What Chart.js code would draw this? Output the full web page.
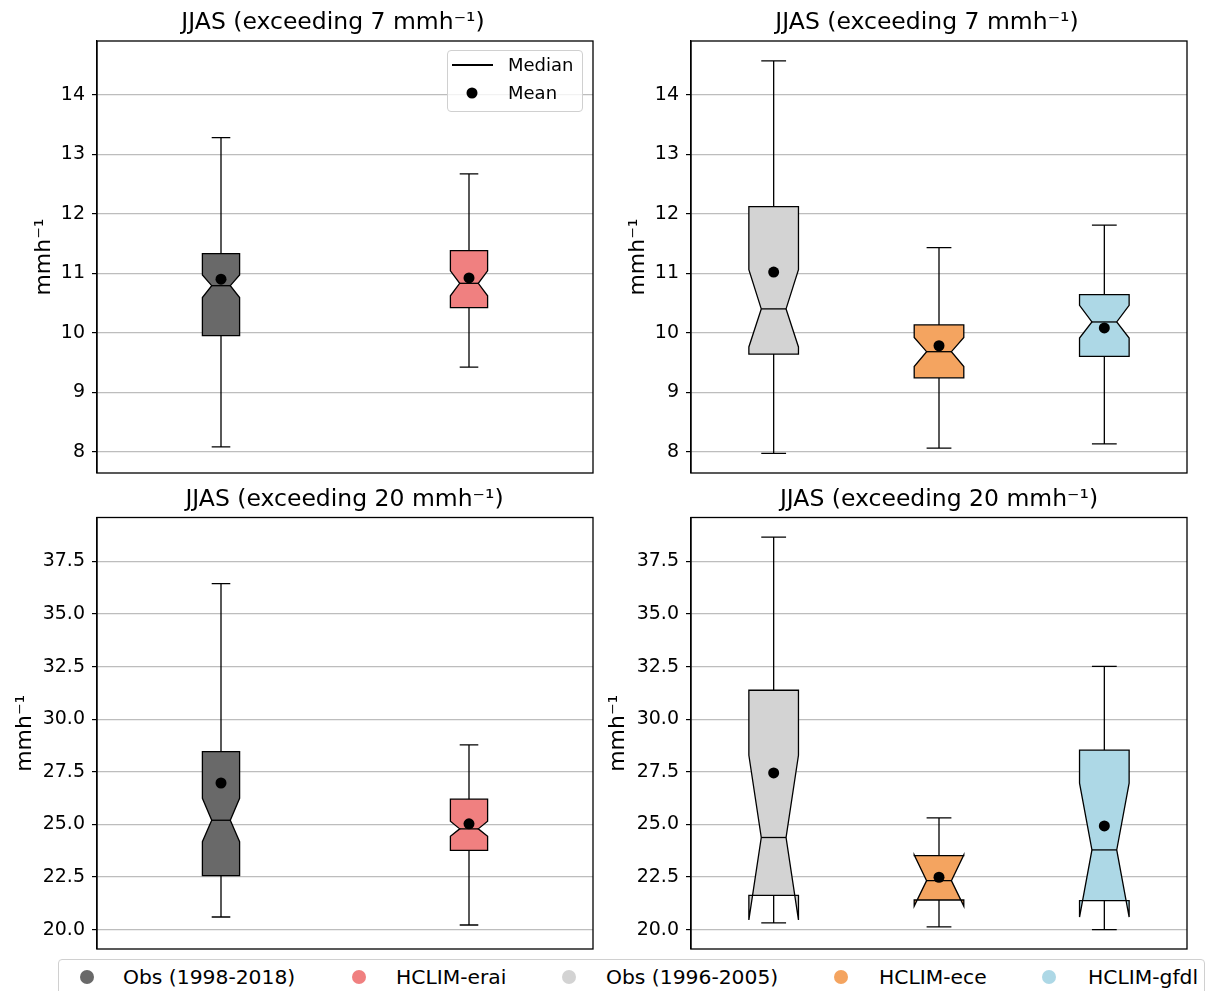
<!DOCTYPE html>
<html>
<head>
<meta charset="utf-8">
<script src="https://cdn.jsdelivr.net/npm/chart.js@4.4.1/dist/chart.umd.min.js"></script>
<style>
  html, body { margin: 0; padding: 0; background: #fff; }
  #fig { position: relative; width: 1208px; height: 991px; overflow: hidden;
         font-family: 'DejaVu Sans', sans-serif; color: #000; background: #fff; }
  #fig canvas { position: absolute; left: 0; top: 0; }
  .title { position: absolute; white-space: nowrap; line-height: 1; font-size: 23.5px;
           transform: translate(-50%, -50%); }
  .legend-box { position: absolute; box-sizing: border-box; border: 1px solid #d0d0d0;
                border-radius: 4px; background: rgba(255,255,255,0.8); }
  .legend-text { position: absolute; white-space: nowrap; line-height: 1; transform: translateY(-50%); }
  .dot { position: absolute; border-radius: 50%; transform: translate(-50%, -50%); }
  .handle-line { position: absolute; background: #000; }
</style>
</head>
<body>
<div id="fig"></div>
<script>
// ---- Series names and colours ----
const seriesLeft = ['Obs (1998-2018)', 'HCLIM-erai'];
const seriesRight = ['Obs (1996-2005)', 'HCLIM-ece', 'HCLIM-gfdl'];
const colorsLeft = ['#696969', '#f08080'];
const colorsRight = ['#d3d3d3', '#f4a460', '#add8e6'];

// ---- Box statistics (mm/h) ----
// order: lower whisker, Q1, notch low, median, notch high, Q3, upper whisker, mean
const obs9818Ex7  = [8.08, 9.95, 10.59, 10.79, 10.97, 11.33, 13.28, 10.90];
const eraiEx7     = [9.42, 10.42, 10.62, 10.83, 11.04, 11.38, 12.67, 10.92];
const obs9605Ex7  = [7.97, 9.64, 9.76, 10.40, 11.06, 12.12, 14.57, 11.02];
const eceEx7      = [8.06, 9.24, 9.43, 9.68, 9.92, 10.13, 11.43, 9.78];
const gfdlEx7     = [8.13, 9.60, 9.91, 10.18, 10.46, 10.64, 11.81, 10.08];

const obs9818Ex20 = [20.60, 22.57, 24.18, 25.20, 26.24, 28.46, 36.45, 26.97];
const eraiEx20    = [20.22, 23.77, 24.44, 24.79, 25.15, 26.20, 28.78, 25.03];
const obs9605Ex20 = [20.32, 21.63, 20.46, 24.38, 28.29, 31.38, 38.66, 27.45];
const eceEx20     = [20.13, 21.41, 21.12, 22.33, 23.55, 23.52, 25.31, 22.49];
const gfdlEx20    = [20.00, 21.38, 20.60, 23.79, 26.96, 28.53, 32.51, 24.93];

// ---- Axis ticks and ranges ----
const ticksEx7 = [8, 9, 10, 11, 12, 13, 14];
const tickLabelsEx7 = ['8', '9', '10', '11', '12', '13', '14'];
const ticksEx20 = [20, 22.5, 25, 27.5, 30, 32.5, 35, 37.5];
const tickLabelsEx20 = ['20.0', '22.5', '25.0', '27.5', '30.0', '32.5', '35.0', '37.5'];
const rangeEx7 = [7.64, 14.905];
const rangeEx20 = [19.08, 39.59];

const titleEx7 = 'JJAS (exceeding 7 mmh\u207B\u00B9)';
const titleEx20 = 'JJAS (exceeding 20 mmh\u207B\u00B9)';
const unitLabel = 'mmh\u207B\u00B9';

// ---- Layout ----
const FIG_W = 1208, FIG_H = 991;
const FONT = "'DejaVu Sans', sans-serif";
Chart.defaults.font.family = FONT;
Chart.defaults.color = '#000';

const fig = document.getElementById('fig');

function toStats(v, fill) {
  const [whislo, q1, cilo, med, cihi, q3, whishi, mean] = v;
  return { whislo, q1, cilo, med, cihi, q3, whishi, mean, fill };
}

// Notched boxes, whiskers and caps drawn through the chart's own scales
function notchedBoxes(boxes, width) {
  return {
    id: 'notchedBoxes',
    beforeDatasetsDraw(chart) {
      const { ctx, scales: { x, y } } = chart;
      const px = v => x.getPixelForValue(v);
      const py = v => y.getPixelForValue(v);
      ctx.save();
      ctx.lineWidth = 1.3;
      ctx.strokeStyle = '#000';
      ctx.lineJoin = 'miter';
      boxes.forEach((b, i) => {
        const pos = i + 1;
        const bl = px(pos - width / 2), br = px(pos + width / 2);
        const nl = px(pos - width / 4), nr = px(pos + width / 4), c = px(pos);
        ctx.beginPath();
        ctx.moveTo(c, py(b.q1)); ctx.lineTo(c, py(b.whislo));
        ctx.moveTo(c, py(b.q3)); ctx.lineTo(c, py(b.whishi));
        ctx.moveTo(nl, py(b.whislo)); ctx.lineTo(nr, py(b.whislo));
        ctx.moveTo(nl, py(b.whishi)); ctx.lineTo(nr, py(b.whishi));
        ctx.stroke();
        const xs = [bl, br, br, nr, br, br, bl, bl, nl, bl, bl];
        const ys = [b.q1, b.q1, b.cilo, b.med, b.cihi, b.q3, b.q3, b.cihi, b.med, b.cilo, b.q1];
        ctx.beginPath();
        xs.forEach((xx, k) => k ? ctx.lineTo(xx, py(ys[k])) : ctx.moveTo(xx, py(ys[k])));
        ctx.closePath();
        ctx.fillStyle = b.fill;
        ctx.fill();
        ctx.stroke();
        ctx.beginPath();
        ctx.moveTo(nl, py(b.med)); ctx.lineTo(nr, py(b.med));
        ctx.stroke();
      });
      ctx.restore();
    },
    afterDatasetsDraw(chart) {
      const { ctx, chartArea: a } = chart;
      ctx.save();
      ctx.lineWidth = 1.3;
      ctx.strokeStyle = '#000';
      ctx.strokeRect(a.left, a.top, a.right - a.left, a.bottom - a.top);
      ctx.restore();
    }
  };
}

function makePanel(p) {
  const canvas = document.createElement('canvas');
  canvas.width = FIG_W; canvas.height = FIG_H;
  fig.appendChild(canvas);
  const boxes = p.values.map((v, i) => toStats(v, p.colors[i]));
  const n = boxes.length;
  const width = 0.15 * Math.max(n - 1, 1);
  const labelOffset = 22 * 1.2 / 2;
  const scaleLeft = p.labelX - labelOffset;
  new Chart(canvas, {
    type: 'scatter',
    data: {
      datasets: [{
        label: 'Mean',
        data: boxes.map((b, i) => ({ x: i + 1, y: b.mean })),
        pointRadius: 5.5, pointHoverRadius: 5.5,
        backgroundColor: '#000', borderWidth: 0
      }]
    },
    options: {
      responsive: false, animation: false, devicePixelRatio: 1, events: [],
      layout: { padding: { left: scaleLeft, top: p.area.top,
                           right: FIG_W - p.area.right, bottom: FIG_H - p.area.bottom } },
      plugins: { legend: { display: false }, tooltip: { enabled: false }, title: { display: false } },
      scales: {
        x: { type: 'linear', display: false, min: 0.5, max: n + 0.5 },
        y: {
          type: 'linear', min: p.range[0], max: p.range[1], bounds: 'data',
          afterBuildTicks: s => { s.ticks = p.ticks.map(v => ({ value: v })); },
          afterFit: s => { s.width = p.area.left - scaleLeft; s.paddingTop = 0; s.paddingBottom = 0; },
          ticks: { callback: (v, i) => p.tickLabels[i], font: { size: 19 }, color: '#000',
                   padding: 7, autoSkip: false },
          grid: { color: '#bdbdbd', lineWidth: 1.2, tickColor: '#000', tickLength: 5, tickWidth: 1.2 },
          border: { display: true, color: '#000', width: 1.3 },
          title: { display: true, text: unitLabel, font: { size: 22 }, color: '#000',
                   padding: { top: 0, bottom: 0 } }
        }
      }
    },
    plugins: [notchedBoxes(boxes, width)]
  });

  const t = document.createElement('div');
  t.className = 'title';
  t.textContent = p.title;
  t.style.left = p.titleX + 'px';
  t.style.top = p.titleY + 'px';
  fig.appendChild(t);
}

const panels = [
  { area: { left: 97, top: 41, right: 593, bottom: 473 }, labelX: 44, titleX: 333, titleY: 22,
    title: titleEx7, range: rangeEx7, ticks: ticksEx7, tickLabels: tickLabelsEx7,
    values: [obs9818Ex7, eraiEx7], colors: colorsLeft },
  { area: { left: 691, top: 41, right: 1187, bottom: 473 }, labelX: 638, titleX: 927, titleY: 22,
    title: titleEx7, range: rangeEx7, ticks: ticksEx7, tickLabels: tickLabelsEx7,
    values: [obs9605Ex7, eceEx7, gfdlEx7], colors: colorsRight },
  { area: { left: 97, top: 517.5, right: 593, bottom: 949 }, labelX: 25, titleX: 344.5, titleY: 498.5,
    title: titleEx20, range: rangeEx20, ticks: ticksEx20, tickLabels: tickLabelsEx20,
    values: [obs9818Ex20, eraiEx20], colors: colorsLeft },
  { area: { left: 691, top: 517.5, right: 1187, bottom: 949 }, labelX: 618, titleX: 939, titleY: 498.5,
    title: titleEx20, range: rangeEx20, ticks: ticksEx20, tickLabels: tickLabelsEx20,
    values: [obs9605Ex20, eceEx20, gfdlEx20], colors: colorsRight }
];
panels.forEach(makePanel);

// ---- Median / Mean key inside the upper-left panel ----
function addEl(cls, styles, text) {
  const el = document.createElement('div');
  el.className = cls;
  Object.assign(el.style, styles);
  if (text) el.textContent = text;
  fig.appendChild(el);
  return el;
}
addEl('legend-box', { left: '446.5px', top: '50px', width: '136px', height: '62px' });
addEl('handle-line', { left: '452px', top: '64px', width: '41px', height: '2.3px' });
addEl('legend-text', { left: '508px', top: '65px', fontSize: '18px' }, 'Median');
addEl('dot', { left: '472px', top: '93.3px', width: '11px', height: '11px', background: '#000' });
addEl('legend-text', { left: '508px', top: '93.3px', fontSize: '18px' }, 'Mean');

// ---- Series key along the bottom ----
const keyNames = seriesLeft.concat(seriesRight);
const keyColors = colorsLeft.concat(colorsRight);
const keyDotX = [87, 359, 569, 841, 1049];
const keyTextX = [123, 396, 606, 879, 1088];
addEl('legend-box', { left: '58px', top: '959px', width: '1147px', height: '50px', background: '#fff' });
keyNames.forEach((name, i) => {
  addEl('dot', { left: keyDotX[i] + 'px', top: '976.5px', width: '14px', height: '14px', background: keyColors[i] });
  addEl('legend-text', { left: keyTextX[i] + 'px', top: '976.5px', fontSize: '20.3px' }, name);
});
</script>
</body>
</html>
